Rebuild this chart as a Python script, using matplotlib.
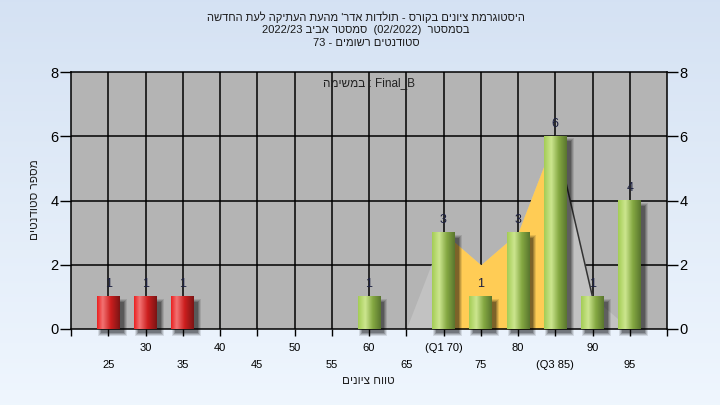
import re
import numpy as np
import matplotlib
matplotlib.use("Agg")
import matplotlib.pyplot as plt
from matplotlib.patches import Rectangle

# ---------------- data ----------------
categories = [25, 30, 35, 40, 45, 50, 55, 60, 65, 70, 75, 80, 85, 90, 95]
counts     = [1, 1, 1, 0, 0, 0, 0, 1, 0, 3, 1, 3, 6, 1, 4]
pass_grade = 55
q1, q3 = 70, 85
area_x = [60, 65, 70, 75, 80, 85, 90, 95]
area_y = [0, 0, 3, 2, 3, 6, 1, 0]
tick_labels = ["25", "30", "35", "40", "45", "50", "55", "60", "65",
               "(Q1 70)", "75", "80", "(Q3 85)", "90", "95"]
title_lines = ["היסטוגרמת ציונים בקורס - תולדות אדר' מהעת העתיקה לעת החדשה",
               "בסמסטר  (02/2022)  סמסטר אביב 2022/23",
               "סטודנטים רשומים - 73"]
task_prefix = "במשימה"
task_name = "Final_B"
xlabel = "טווח ציונים"
ylabel = "מספר סטודנטים"


def rtl(s):
    """Visual order for a right-to-left run (numbers keep their order)."""
    r = s[::-1]
    r = re.sub(r'[0-9A-Za-z/._]+', lambda m: m.group(0)[::-1], r)
    return r.translate(str.maketrans('()', ')('))


plt.rcParams['font.family'] = ['Liberation Sans', 'DejaVu Sans']

W, H = 720, 405
fig = plt.figure(figsize=(W / 100, H / 100), dpi=100)

# background gradient
bg = fig.add_axes([0, 0, 1, 1], zorder=-10)
grad = np.linspace(0, 1, 256)[:, None]
top = np.array([0.835, 0.886, 0.953])
bot = np.array([0.937, 0.965, 0.996])
img = top[None, None, :] * (1 - grad[:, :, None]) + bot[None, None, :] * grad[:, :, None]
bg.imshow(img, aspect='auto', extent=[0, 1, 0, 1])
bg.set_axis_off()

L, R, T, B = 71, 667, 72, 329
ax = fig.add_axes([L / W, (H - B) / H, (R - L) / W, (B - T) / H])
ax.set_facecolor('#b4b4b4')
ax.set_xlim(20, 100)
ax.set_ylim(0, 8)

# grid
for c in categories:
    ax.axvline(c, color='black', lw=1.1, zorder=1)
for yv in [2, 4, 6]:
    ax.axhline(yv, color='black', lw=1.1, zorder=1)

# area
ax.fill_between(area_x, 0, area_y, color='#c2c2c2', lw=0, zorder=2)
ax_arr = np.array(area_x, float)
ay_arr = np.array(area_y, float)
mask = (ax_arr >= q1) & (ax_arr <= q3)
ax.fill_between(ax_arr[mask], 0, ay_arr[mask], color='#ffcc55', lw=0, zorder=2.1)
i85 = area_x.index(q3)
ax.plot(area_x[i85:i85 + 2], area_y[i85:i85 + 2], color='#333333', lw=1.1, zorder=2.2)

# bars
bw = 3.05


def gradient(stops):
    pos = np.linspace(0, 1, 200)
    cols = np.array([s[1] for s in stops])
    p = [s[0] for s in stops]
    rgb = np.stack([np.interp(pos, p, cols[:, k]) for k in range(3)], axis=-1)
    return rgb[None, :, :]


green = gradient([(0, (0.64, 0.80, 0.33)), (0.32, (0.80, 0.90, 0.56)),
                  (0.65, (0.52, 0.66, 0.26)), (1, (0.35, 0.46, 0.18))])
red = gradient([(0, (0.92, 0.12, 0.12)), (0.25, (0.95, 0.45, 0.45)),
                (0.6, (0.80, 0.12, 0.12)), (1, (0.48, 0.08, 0.08))])

px = 80 / (R - L)   # data units per pixel (x)
py = 8 / (B - T)    # data units per pixel (y)
for c, v in zip(categories, counts):
    if v <= 0:
        continue
    # soft shadow
    for grow, a in [(3, 0.10), (2, 0.14), (1, 0.18), (0, 0.22)]:
        ax.add_patch(Rectangle((c - bw / 2 + (4 - grow) * px, -(4 + grow) * py),
                               bw + 2 * grow * px, v + grow * 2 * py - 1 * py,
                               color='black', alpha=a, lw=0, zorder=2.5, clip_on=False))
    ax.imshow(red if c < pass_grade else green, aspect='auto',
              extent=[c - bw / 2, c + bw / 2, 0, v], zorder=3)
    ax.annotate(str(v), (c, v), xytext=(0, 9), textcoords='offset points',
                ha='center', va='center', fontsize=9, color='#1c2040', zorder=4)

ax.set_xlim(20, 100)
ax.set_ylim(0, 8)

ax.text(0.5, 0.955, rtl(task_prefix) + " : " + task_name, transform=ax.transAxes,
        ha='center', va='center', fontsize=8.5, color='#222222', zorder=5)

# ticks
upper = categories[1::2]
lower = categories[0::2]
ax.set_xticks(upper)
ax.set_xticklabels([tick_labels[categories.index(c)] for c in upper])
ax.set_xticks(lower + [20, 100], minor=True)
ax.set_xticklabels([tick_labels[categories.index(c)] for c in lower] + ["", ""], minor=True)
ax.tick_params(axis='x', which='major', length=5, width=1, pad=5, labelsize=8, colors='black')
ax.tick_params(axis='x', which='minor', length=5, width=1, pad=17, labelsize=8, colors='black')
ax.set_yticks([0, 2, 4, 6, 8])
ax.tick_params(axis='y', length=8, width=1, pad=1, labelsize=10.5, left=True, right=True,
               labelleft=True, labelright=True, colors='black')
for s in ax.spines.values():
    s.set_color('black')
    s.set_linewidth(1.1)

for i, line in enumerate(title_lines):
    fig.text(366 / W, 1 - (17 + 13 * i) / H, rtl(line), ha='center', va='center',
             fontsize=8.0, color='#1a1a1a')
fig.text(368 / W, 1 - 381 / H, rtl(xlabel), ha='center', va='center', fontsize=8.5, color='#222222')
fig.text(35 / W, 1 - 200 / H, rtl(ylabel), ha='center', va='center', rotation=90,
         fontsize=8.5, color='#222222')

fig.savefig('out.png', dpi=100)
